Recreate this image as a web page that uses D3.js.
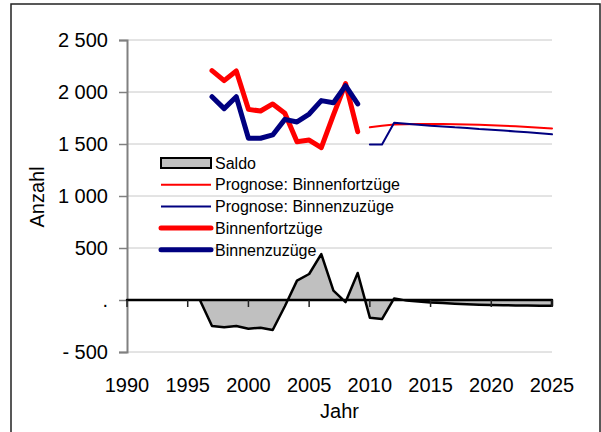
<!DOCTYPE html>
<html lang="de">
<head>
<meta charset="UTF-8">
<title>Binnenwanderung</title>
<style>
    body { margin: 0; background: #fff; }
    svg { display: block; font-family: Arial, "Liberation Sans", sans-serif; }
</style>
</head>
<body>
<svg id="chart" width="601" height="432"></svg>
<script src="https://d3js.org/d3.v7.min.js"></script>
<script>
    // Saldo 1990-2025
    const saldoYears = [1990, 1991, 1992, 1993, 1994, 1995, 1996, 1997, 1998, 1999, 2000, 2001,
        2002, 2003, 2004, 2005, 2006, 2007, 2008, 2009, 2010, 2011, 2012, 2013,
        2014, 2015, 2016, 2017, 2018, 2019, 2020, 2021, 2022, 2023, 2024, 2025];
    const saldo = [0, 0, 0, 0, 0, 0, 0, -250, -263, -250, -276, -266,
        -288, -60, 186, 250, 442, 90, -20, 260, -170, -183, 15, -5,
        -15, -25, -30, -35, -40, -45, -48, -50, -52, -54, -55, -56];

    // observed 1997-2009
    const obsYears = [1997, 1998, 1999, 2000, 2001, 2002, 2003, 2004, 2005, 2006, 2007, 2008, 2009];
    const fortzuege = [2205, 2109, 2202, 1833, 1817, 1885, 1795, 1522, 1538, 1465, 1779, 2080, 1618];
    const zuzuege = [1955, 1840, 1955, 1555, 1555, 1587, 1737, 1712, 1788, 1917, 1897, 2060, 1885];

    // forecast 2010-2025
    const progYears = [2010, 2011, 2012, 2013, 2014, 2015, 2016, 2017, 2018, 2019, 2020, 2021,
        2022, 2023, 2024, 2025];
    const progFortzuege = [1660, 1675, 1688, 1690, 1692, 1692, 1692, 1690, 1688, 1685, 1680, 1675,
        1670, 1663, 1657, 1650];
    const progZuzuege = [1495, 1495, 1705, 1695, 1685, 1675, 1668, 1660, 1655, 1645, 1638, 1630,
        1620, 1612, 1603, 1593];

    const yTicks = [-500, 0, 500, 1000, 1500, 2000, 2500];
    const yTickLabels = ["- 500", ".", "500", "1 000", "1 500", "2 000", "2 500"];
    const xTicks = [1990, 1995, 2000, 2005, 2010, 2015, 2020, 2025];

    const svg = d3.select("#chart");

    // outer frame
    svg.append("rect")
        .attr("x", 11).attr("y", 4)
        .attr("width", 589).attr("height", 440)
        .attr("fill", "none")
        .attr("stroke", "#222")
        .attr("stroke-width", 1.5);

    const x = d3.scaleLinear().domain([1990, 2025]).range([127, 552]);
    const y = d3.scaleLinear().domain([-500, 2500]).range([352, 40]);

    // gridlines
    svg.append("g")
        .selectAll("line")
        .data(yTicks.filter(d => d !== 0))
        .join("line")
        .attr("x1", x(1990)).attr("x2", x(2025))
        .attr("y1", d => y(d)).attr("y2", d => y(d))
        .attr("stroke", "#c8c8c8")
        .attr("stroke-width", 1);

    // y axis
    const yAxis = svg.append("g")
        .attr("transform", `translate(${x(1990)},0)`)
        .call(d3.axisLeft(y).tickValues(yTicks).tickSize(8).tickPadding(11)
            .tickFormat((d, i) => yTickLabels[i]));
    yAxis.select(".domain").attr("stroke", "#808080").attr("stroke-width", 2);
    yAxis.selectAll(".tick line").attr("stroke", "#808080").attr("stroke-width", 1.5);
    yAxis.selectAll("text").attr("font-size", 20).attr("fill", "#000")
        .attr("font-family", "Arial, 'Liberation Sans', sans-serif");

    // saldo area
    const area = d3.area()
        .x((d, i) => x(saldoYears[i]))
        .y0(y(0))
        .y1(d => y(d));
    svg.append("path")
        .datum(saldo)
        .attr("d", area)
        .attr("fill", "#c0c0c0")
        .attr("stroke", "#000")
        .attr("stroke-width", 2.5)
        .attr("stroke-linejoin", "round");

    // x ticks (crossing at 0)
    svg.append("g")
        .selectAll("line")
        .data(xTicks)
        .join("line")
        .attr("x1", d => x(d)).attr("x2", d => x(d))
        .attr("y1", y(0)).attr("y2", y(0) + 7)
        .attr("stroke", "#222")
        .attr("stroke-width", 1.5);

    svg.append("g")
        .selectAll("text")
        .data(xTicks)
        .join("text")
        .attr("x", d => x(d))
        .attr("y", 392)
        .attr("text-anchor", "middle")
        .attr("font-size", 20)
        .text(d => d);

    // axis titles
    svg.append("text")
        .attr("x", (x(1990) + x(2025)) / 2)
        .attr("y", 418)
        .attr("text-anchor", "middle")
        .attr("font-size", 20)
        .text("Jahr");
    svg.append("text")
        .attr("transform", "translate(44,197) rotate(-90)")
        .attr("text-anchor", "middle")
        .attr("font-size", 20)
        .text("Anzahl");

    // lines
    const series = [
        { name: "Prognose: Binnenfortzüge", years: progYears, values: progFortzuege, color: "#ff0000", width: 2 },
        { name: "Prognose: Binnenzuzüge", years: progYears, values: progZuzuege, color: "#000080", width: 2 },
        { name: "Binnenfortzüge", years: obsYears, values: fortzuege, color: "#ff0000", width: 5 },
        { name: "Binnenzuzüge", years: obsYears, values: zuzuege, color: "#000080", width: 5 }
    ];

    series.forEach(s => {
        const line = d3.line()
            .x((d, i) => x(s.years[i]))
            .y(d => y(d));
        svg.append("path")
            .datum(s.values)
            .attr("d", line)
            .attr("fill", "none")
            .attr("stroke", s.color)
            .attr("stroke-width", s.width)
            .attr("stroke-linejoin", "round")
            .attr("stroke-linecap", "round");
    });

    // legend
    const legend = svg.append("g").attr("transform", "translate(161,163)");
    const rowH = 21.7;

    legend.append("rect")
        .attr("x", 0).attr("y", -5)
        .attr("width", 50).attr("height", 10)
        .attr("fill", "#c0c0c0")
        .attr("stroke", "#000")
        .attr("stroke-width", 2);
    legend.append("text")
        .attr("x", 54).attr("y", 0).attr("dy", "0.36em")
        .attr("font-size", 16)
        .text("Saldo");

    series.forEach((s, i) => {
        const row = legend.append("g").attr("transform", `translate(0,${(i + 1) * rowH})`);
        row.append("line")
            .attr("x1", 0).attr("x2", 50)
            .attr("stroke", s.color)
            .attr("stroke-width", s.width)
            .attr("stroke-linecap", s.width > 2 ? "round" : "butt");
        row.append("text")
            .attr("x", 54).attr("y", 0).attr("dy", "0.36em")
            .attr("font-size", 16)
            .text(s.name);
    });
</script>
</body>
</html>
